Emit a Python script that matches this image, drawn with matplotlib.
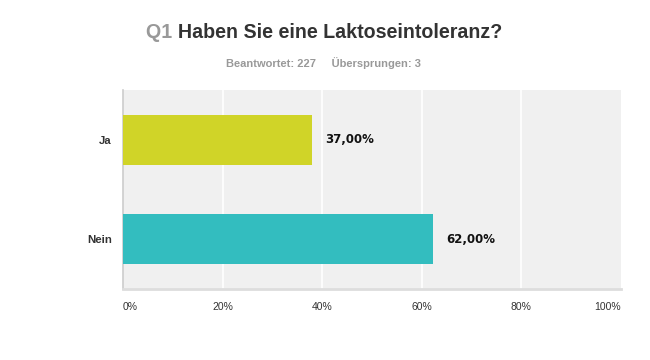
import matplotlib
matplotlib.use("Agg")
import matplotlib.pyplot as plt

categories = ["Ja", "Nein"]
values = [37.9, 62.2]
value_labels = ["37,00%", "62,00%"]
tick_values = [0, 20, 40, 60, 80, 100]
tick_labels = ["0%", "20%", "40%", "60%", "80%", "100%"]
colors = ["#D0D428", "#33BDBF"]

fig = plt.figure(figsize=(6.5, 3.6), dpi=100)
fig.patch.set_facecolor("white")
ax = fig.add_axes([123/650, 1-289/360, (621-123)/650, (289-90)/360])
ax.set_facecolor("#F0F0F0")

ypos = list(range(len(categories)))
ax.barh(ypos, values, height=0.5, color=colors, zorder=3)
ax.set_xlim(0, 100)
ax.set_ylim(1.5, -0.5)

for x in tick_values[1:-1]:
    ax.axvline(x, color="white", lw=1.2, zorder=1)

for s in ["top", "right"]:
    ax.spines[s].set_visible(False)
ax.spines["left"].set_color("#CCCCCC")
ax.spines["left"].set_linewidth(1.2)
ax.spines["bottom"].set_color("#DDDDDD")
ax.spines["bottom"].set_linewidth(2)

ax.set_yticks(ypos)
ax.set_yticklabels(categories, fontsize=8.2, fontweight="bold", color="#333333",
                   family="Liberation Sans")
ax.tick_params(axis="y", length=0, pad=8)
ax.set_xticks([])

for x, lab in zip(tick_values, tick_labels):
    ha = "center"
    if x == 0:
        ha = "left"
    elif x == 100:
        ha = "right"
    ax.annotate(lab, xy=(x, 0), xycoords=("data", "axes fraction"),
                xytext=(0, -13), textcoords="offset points", ha=ha, va="center",
                fontsize=7.5, color="#333333", family="Liberation Sans")

for y, v, lab in zip(ypos, values, value_labels):
    ax.annotate(lab, xy=(v, y), xytext=(10, 0), textcoords="offset points",
                ha="left", va="center", fontsize=8.5, fontweight="bold",
                color="#111111", family="DejaVu Sans", zorder=5)

# Title in two colours
fig.canvas.draw()
renderer = fig.canvas.get_renderer()
t1 = fig.text(0, 0, "Q1 ", fontsize=14.1, fontweight="bold", color="#999999",
              family="Liberation Sans")
t2 = fig.text(0, 0, "Haben Sie eine Laktoseintoleranz?", fontsize=14.1,
              fontweight="bold", color="#333333", family="Liberation Sans")
w1 = t1.get_window_extent(renderer).width
w2 = t2.get_window_extent(renderer).width
total = w1 + w2
cx = 324
x0 = cx - total / 2
ty = 1 - 32/360
t1.set_position((x0/650, ty))
t1.set_va("center")
t2.set_position(((x0 + w1)/650, ty))
t2.set_va("center")

fig.text(323.5/650, 1 - 63/360, "Beantwortet: 227     Übersprungen: 3",
         ha="center", va="center", fontsize=8, fontweight="bold",
         color="#999999", family="Liberation Sans")

fig.savefig("out.png", dpi=100, facecolor="white")
